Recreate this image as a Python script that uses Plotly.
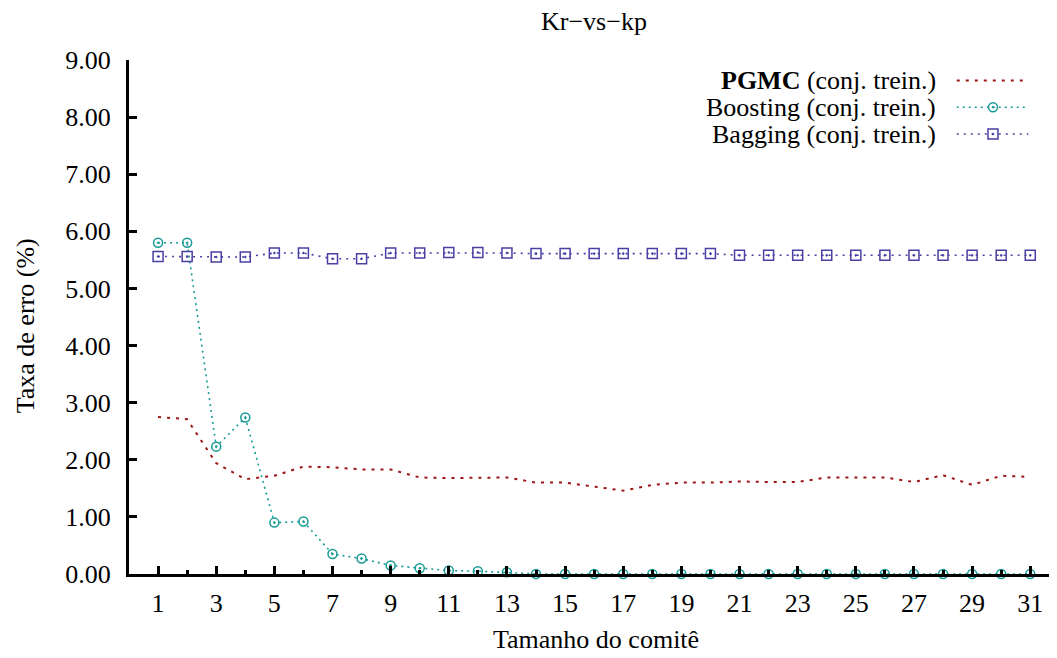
import plotly.graph_objects as go

comite = list(range(1, 32))
pgmc = [2.75, 2.71, 1.94, 1.66, 1.72, 1.88, 1.87, 1.83, 1.83, 1.69, 1.68,
        1.69, 1.69, 1.60, 1.60, 1.53, 1.46, 1.56, 1.60, 1.60, 1.62,
        1.61, 1.61, 1.69, 1.69, 1.69, 1.61, 1.73, 1.56, 1.72, 1.70]
boosting = [5.80, 5.80, 2.23, 2.74, 0.90, 0.92, 0.35, 0.27, 0.15, 0.10, 0.06,
            0.05, 0.03, 0.0, 0.0, 0.0, 0.0, 0.0, 0.0, 0.0, 0.0,
            0.0, 0.0, 0.0, 0.0, 0.0, 0.0, 0.0, 0.0, 0.0, 0.0]
bagging = [5.56, 5.56, 5.55, 5.55, 5.62, 5.62, 5.52, 5.52, 5.62, 5.62, 5.63,
           5.63, 5.62, 5.61, 5.61, 5.61, 5.61, 5.61, 5.61, 5.61, 5.58,
           5.58, 5.58, 5.58, 5.58, 5.58, 5.58, 5.58, 5.58, 5.58, 5.58]
ytick_vals = [0, 1, 2, 3, 4, 5, 6, 7, 8, 9]
ytick_text = ["0.00", "1.00", "2.00", "3.00", "4.00", "5.00", "6.00", "7.00", "8.00", "9.00"]
xtick_vals = list(range(1, 32, 2))
legend_names = ["<b>PGMC</b> (conj. trein.)", "Boosting (conj. trein.)", "Bagging (conj. trein.)"]

RED = "#9c1515"
TEAL = "#169a95"
BLUE = "#4a3fa3"
FONT = "Liberation Serif"
FS = 26

fig = go.Figure()
fig.add_trace(go.Scatter(x=comite, y=pgmc, mode="lines",
                         line=dict(color=RED, width=2, dash="3px,6px"),
                         showlegend=False, cliponaxis=False))
fig.add_trace(go.Scatter(x=comite, y=boosting, mode="lines+markers",
                         line=dict(color=TEAL, width=1.6, dash="2px,4px"),
                         marker=dict(symbol="circle-open-dot", size=9, color=TEAL, line=dict(width=1.5)),
                         showlegend=False, cliponaxis=False))
fig.add_trace(go.Scatter(x=comite, y=bagging, mode="lines+markers",
                         line=dict(color=BLUE, width=1.6, dash="2px,5px"),
                         marker=dict(symbol="square-open-dot", size=10, color=BLUE, line=dict(width=1.5)),
                         showlegend=False, cliponaxis=False))

# legend samples on an overlay axis (0..1 in each direction), sample drawn to the right of the text
leg_y = [0.960, 0.908, 0.856]
leg_cols = [RED, TEAL, BLUE]
leg_dash = ["3px,6px", "2px,4px", "2px,5px"]
leg_sym = [None, "circle-open-dot", "square-open-dot"]
for i in range(3):
    fig.add_trace(go.Scatter(x=[0.892, 0.969], y=[leg_y[i]] * 2, mode="lines", xaxis="x2", yaxis="y2",
                             line=dict(color=leg_cols[i], width=2 if i == 0 else 1.6, dash=leg_dash[i]),
                             showlegend=False, hoverinfo="skip"))
    if leg_sym[i]:
        fig.add_trace(go.Scatter(x=[0.931], y=[leg_y[i]], mode="markers", xaxis="x2", yaxis="y2",
                                 marker=dict(symbol=leg_sym[i], size=9 if i == 1 else 10, color=leg_cols[i],
                                             line=dict(width=1.5)),
                                 showlegend=False, hoverinfo="skip"))
    fig.add_annotation(x=0.872, y=leg_y[i], xref="x2", yref="y2", text=legend_names[i], showarrow=False,
                       xanchor="right", yanchor="middle", font=dict(family=FONT, size=FS, color="black"))

fig.add_annotation(text="Tamanho do comitê", x=0.5027, y=-0.128, xref="paper", yref="paper", showarrow=False,
                   xanchor="center", yanchor="middle", font=dict(family=FONT, size=FS))
fig.add_annotation(text="Taxa de erro (%)", x=-0.112, y=0.482, xref="paper", yref="paper",
                   showarrow=False, textangle=-90, xanchor="center", yanchor="middle",
                   font=dict(family=FONT, size=FS))

fig.update_layout(
    width=1049, height=650,
    paper_bgcolor="white", plot_bgcolor="white",
    margin=dict(l=121, r=0, t=52, b=84),
    font=dict(family=FONT, size=FS, color="black"),
    title=dict(text="Kr\u2212vs\u2212kp", x=0.5586, xanchor="center", y=0.98, yanchor="middle",
               font=dict(family=FONT, size=FS)),
    xaxis=dict(range=[0, 31.92], tickvals=xtick_vals, ticks="inside", ticklen=8, tickwidth=2.5,
               tickcolor="black", showline=True, linecolor="black", linewidth=3, showgrid=False,
               zeroline=False, ticklabelstandoff=4, tickfont=dict(family=FONT, size=FS),
               minor=dict(tickvals=list(range(2, 32, 2)), ticks="inside", ticklen=4, tickwidth=2.5,
                          tickcolor="black", showgrid=False)),
    yaxis=dict(range=[0, 9], tickvals=ytick_vals, ticktext=ytick_text, ticks="inside", ticklen=8,
               tickwidth=2.5, tickcolor="black", showline=True, linecolor="black", linewidth=3,
               showgrid=False, zeroline=False, ticklabelstandoff=10, tickfont=dict(family=FONT, size=FS)),
    xaxis2=dict(range=[0, 1], overlaying="x", visible=False, fixedrange=True),
    yaxis2=dict(range=[0, 1], overlaying="y", visible=False, fixedrange=True),
)

fig.write_html("out.html")
